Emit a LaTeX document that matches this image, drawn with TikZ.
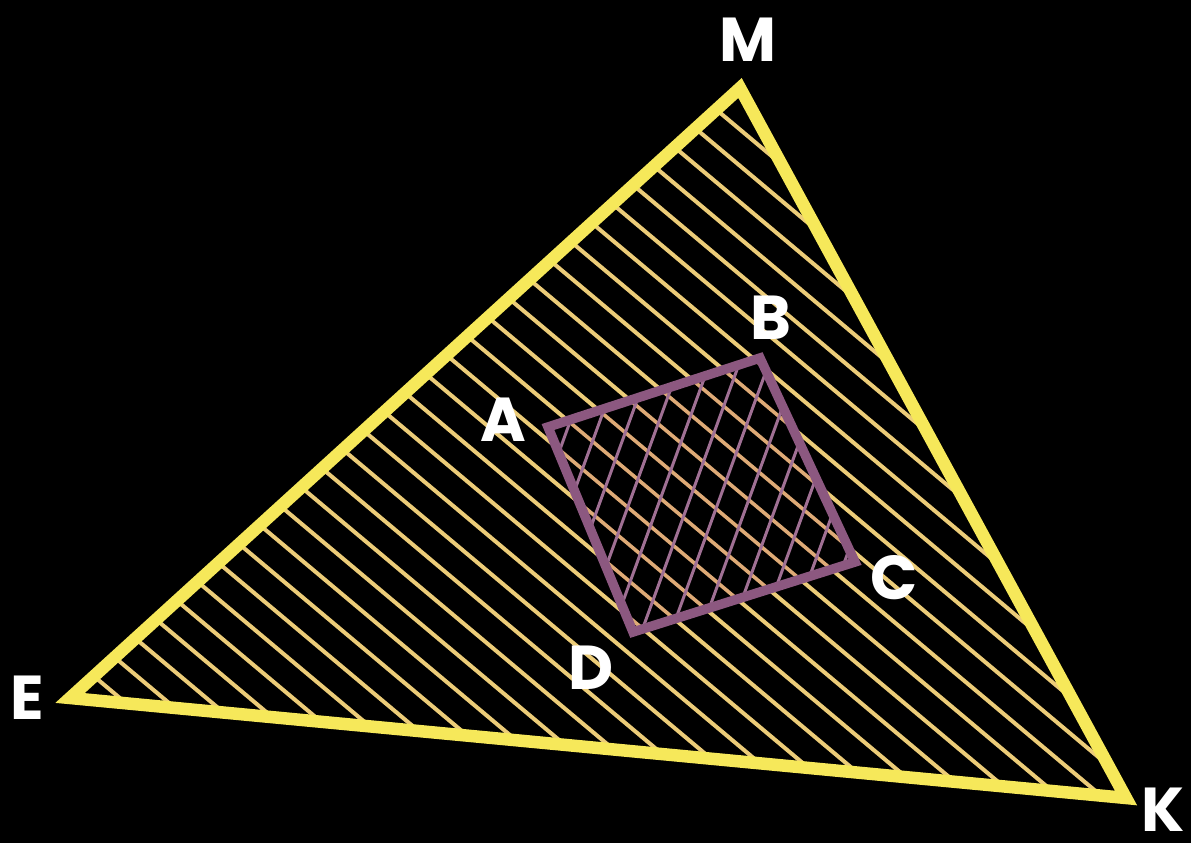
\documentclass[tikz,border=0pt]{standalone}
\usepackage{fontspec}
\setmainfont{Poppins}
\definecolor{triyellow}{RGB}{246,232,90}
\definecolor{hatchyellow}{RGB}{236,204,120}
\definecolor{hatchorange}{RGB}{222,170,118}
\definecolor{sqpurple}{RGB}{140,88,128}
\definecolor{hatchpurple}{RGB}{160,112,148}
\begin{document}
\begin{tikzpicture}[x=1pt,y=-1pt,
  tri/.style={draw=triyellow, line width=12.5pt, line join=miter},
  sq/.style={draw=sqpurple, line width=9.5pt, line join=miter},
  yhatch/.style={draw=hatchyellow, line width=4pt},
  ohatch/.style={draw=hatchorange, line width=3.6pt},
  phatch/.style={draw=hatchpurple, line width=3pt},
  lab/.style={text=white, font=\fontsize{62}{62}\selectfont\bfseries, inner sep=0pt, anchor=center}]
\fill[black] (0,0) rectangle (1191,843);
\useasboundingbox (0,0) rectangle (1191,843);
% vertices
\coordinate (M) at (740,88);
\coordinate (E) at (70,698);
\coordinate (K) at (1126,798);
\coordinate (A) at (548,427);
\coordinate (B) at (760,358);
\coordinate (C) at (855,562);
\coordinate (D) at (633,632);
% hatch in triangle
\begin{scope}
  \clip (M) -- (E) -- (K) -- cycle;
  \foreach \k in {-8,...,28} {
    \draw[yhatch, shift={(622,212)}] ({-17.87*\k-766},{21.30*\k-643}) -- ({-17.87*\k+766},{21.30*\k+643});
  }
\end{scope}
% cross hatch in square
\begin{scope}
  \clip (A) -- (B) -- (C) -- (D) -- cycle;
  \fill[black] (A) -- (B) -- (C) -- (D) -- cycle;
  \foreach \k in {-8,...,28} {
    \draw[ohatch, shift={(622,212)}] ({-17.87*\k-766},{21.30*\k-643}) -- ({-17.87*\k+766},{21.30*\k+643});
  }
  \foreach \k in {-6,...,9} {
    \draw[phatch, shift={(700,390)}] ({26.13*\k-137},{9.51*\k+376}) -- ({26.13*\k+137},{9.51*\k-376});
  }
\end{scope}
\draw[sq] (A) -- (B) -- (C) -- (D) -- cycle;
\draw[tri] (M) -- (E) -- (K) -- cycle;
% labels
\node[lab] (lM) at (748,40) {M};
\node[lab] (lB) at (771,318) {B};
\node[lab] (lA) at (503,420) {A};
\node[lab] (lC) at (894,578) {C};
\node[lab] (lD) at (591,668) {D};
\node[lab] (lE) at (27,698) {E};
\node[lab] (lK) at (1163,810) {K};
\end{tikzpicture}
\end{document}
